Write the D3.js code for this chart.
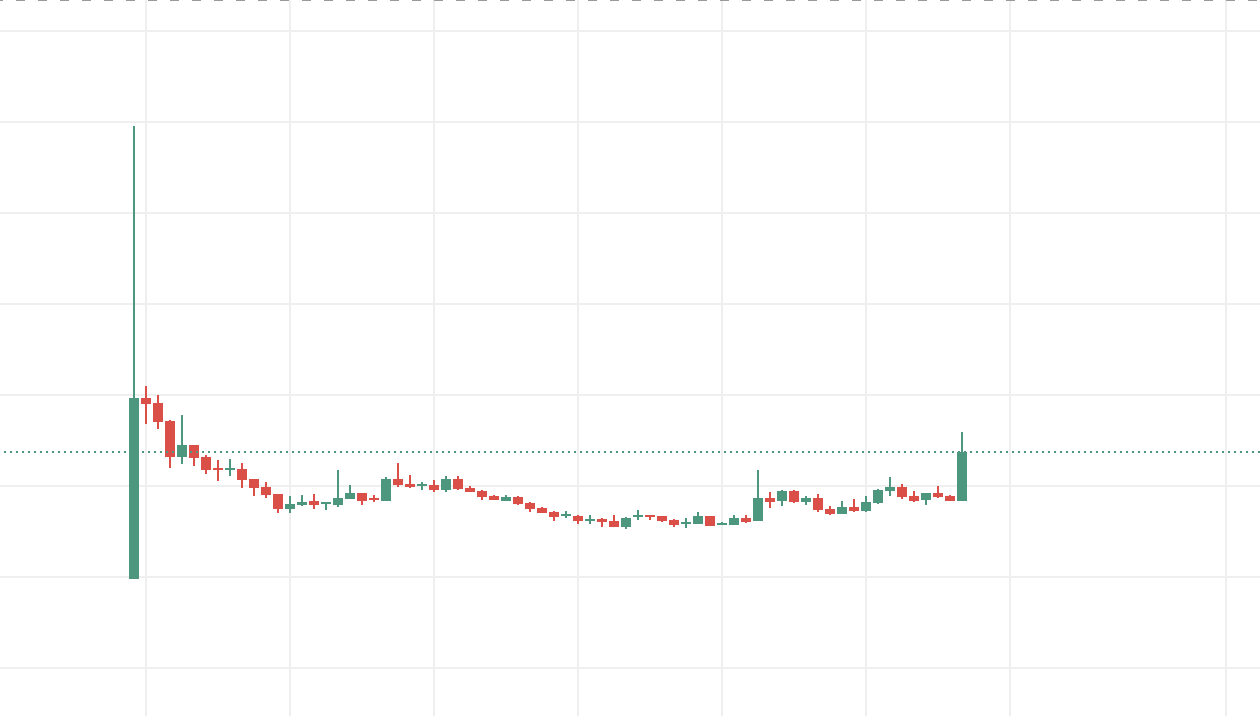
<!DOCTYPE html>
<html>
<head>
<meta charset="utf-8">
<script src="https://cdn.jsdelivr.net/npm/d3@7"></script>
<style>
  html, body { margin: 0; padding: 0; background: #ffffff; overflow: hidden; }
  svg { display: block; font-family: "Liberation Sans", Arial, sans-serif; }
</style>
</head>
<body>
<svg id="chart" width="1260" height="716"></svg>
<script>
// ---- data (price units) ----
const openVals  = [9.8,29.7,29.1,27.1,23.2,24.5,23.2,22.0,21.8,21.9,20.8,19.9,19.1,17.5,17.9,18.4,18.0,17.9,18.6,19.2,
                   18.7,18.4,20.8,20.2,20.0,20.1,19.6,20.8,19.8,19.5,18.9,18.4,18.8,18.1,17.6,17.1,16.7,16.7,16.2,16.4,
                   16.2,15.5,16.6,16.8,16.7,16.3,15.8,15.8,16.7,15.7,15.7,16.5,16.2,18.7,18.4,19.5,18.2,18.7,17.5,16.9,
                   17.7,17.3,18.1,19.5,19.9,18.9,18.5,19.2,18.9,18.4];
const highVals  = [59.6,31.0,30.0,27.3,27.8,24.5,23.4,22.9,23.0,22.5,20.8,20.4,19.1,18.9,19.0,19.1,18.2,21.8,20.1,19.2,
                   19.0,21.0,22.5,21.2,20.4,20.7,21.1,21.1,20.0,19.6,19.0,19.0,18.9,18.2,17.7,17.3,17.3,16.8,16.8,16.5,
                   16.8,16.6,17.4,16.8,16.7,16.4,16.5,17.1,16.7,16.0,16.8,16.8,21.8,19.3,19.6,19.6,18.9,19.1,17.8,18.4,
                   18.6,18.9,19.7,21.0,20.2,19.5,19.2,20.0,19.0,25.9];
const lowVals   = [9.8,26.8,26.3,22.0,22.4,22.2,21.3,20.5,21.1,19.8,18.9,18.7,17.0,17.0,17.8,17.5,17.4,17.7,18.6,17.9,
                   18.2,18.4,19.9,19.8,19.6,19.3,19.3,19.6,19.3,18.5,18.5,18.4,17.9,17.1,17.0,16.2,16.5,15.8,15.8,15.5,
                   15.5,15.3,16.3,16.3,16.0,15.5,15.4,15.8,15.6,15.7,15.7,15.9,16.2,17.6,17.8,18.1,17.9,17.1,16.8,16.9,
                   17.1,17.1,18.0,18.9,18.6,18.2,17.9,18.7,18.4,18.4];
const closeVals = [29.7,29.0,27.0,23.2,24.5,23.1,21.8,21.8,22.0,20.7,19.8,19.0,17.5,18.0,18.2,17.9,18.2,18.7,19.2,18.4,
                   18.5,20.8,20.1,19.9,20.2,19.6,20.8,19.7,19.3,18.8,18.5,18.8,18.0,17.5,17.0,16.6,16.9,16.2,16.4,16.0,
                   15.5,16.5,16.8,16.6,16.2,15.7,16.0,16.7,15.6,15.9,16.5,16.0,18.7,18.2,19.5,18.2,18.7,17.4,16.9,17.7,
                   17.3,18.2,19.6,19.9,18.8,18.4,19.2,18.8,18.4,23.7];
const priceGrid = [0,10,20,30,40,50,60,70];
const timeGrid  = [1,13,25,37,49,61,73,91];
const lastPrice = 23.7;
const topLinePrice = 73.4;

const upColor = "#4e977f";
const downColor = "#da5049";

// ---- scales ----
const x = d3.scaleLinear().domain([0, 69]).range([134, 962]);
const y = d3.scaleLinear().domain([0, 70]).range([668, 31]);

const svg = d3.select("#chart");
svg.append("rect").attr("width", 1260).attr("height", 716).attr("fill", "#ffffff");

// grid
const g = svg.append("g").attr("shape-rendering", "crispEdges");
g.selectAll("line.h").data(priceGrid).enter().append("line")
  .attr("x1", 0).attr("x2", 1260)
  .attr("y1", d => Math.round(y(d))).attr("y2", d => Math.round(y(d)))
  .attr("stroke", "#efefef").attr("stroke-width", 2);
g.selectAll("line.v").data(timeGrid).enter().append("line")
  .attr("y1", 0).attr("y2", 716)
  .attr("x1", d => Math.round(x(d))).attr("x2", d => Math.round(x(d)))
  .attr("stroke", "#efefef").attr("stroke-width", 2);

// candles
const idx = d3.range(openVals.length);
const c = svg.append("g").attr("shape-rendering", "crispEdges");
c.selectAll("rect.wick").data(idx).enter().append("rect")
  .attr("x", i => Math.round(x(i)) - 1)
  .attr("width", 2)
  .attr("y", i => Math.round(y(highVals[i])))
  .attr("height", i => Math.max(1, Math.round(y(lowVals[i])) - Math.round(y(highVals[i]))))
  .attr("fill", i => closeVals[i] >= openVals[i] ? upColor : downColor);
c.selectAll("rect.body").data(idx).enter().append("rect")
  .attr("x", i => Math.round(x(i)) - 5)
  .attr("width", 10)
  .attr("y", i => Math.round(y(Math.max(openVals[i], closeVals[i]))))
  .attr("height", i => Math.max(2, Math.round(y(Math.min(openVals[i], closeVals[i]))) - Math.round(y(Math.max(openVals[i], closeVals[i])))))
  .attr("fill", i => closeVals[i] >= openVals[i] ? upColor : downColor);

// last price dotted line
svg.append("line")
  .attr("x1", 0).attr("x2", 1260)
  .attr("y1", Math.round(y(lastPrice))).attr("y2", Math.round(y(lastPrice)))
  .attr("stroke", upColor).attr("stroke-width", 2)
  .attr("stroke-dasharray", "2,4").attr("stroke-dashoffset", -4)
  .attr("shape-rendering", "crispEdges");

// top dashed line
svg.append("line")
  .attr("x1", 0).attr("x2", 1260)
  .attr("y1", Math.round(y(topLinePrice))).attr("y2", Math.round(y(topLinePrice)))
  .attr("stroke", "#9a9a9a").attr("stroke-width", 2)
  .attr("stroke-dasharray", "9,13").attr("stroke-dashoffset", -16)
  .attr("shape-rendering", "crispEdges");
</script>
</body>
</html>
